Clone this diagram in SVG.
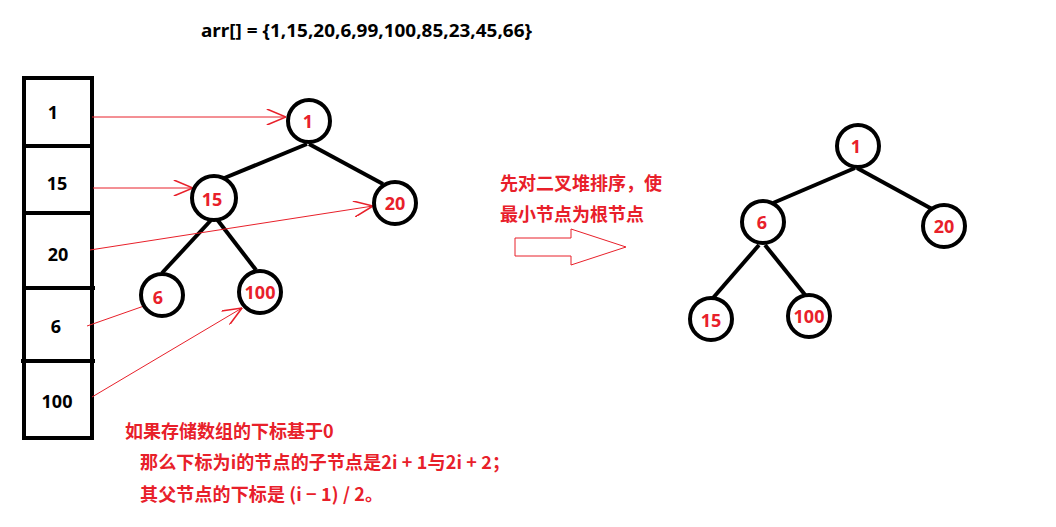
<svg xmlns="http://www.w3.org/2000/svg" width="1056" height="527" viewBox="0 0 1056 527">
<style>
.t{font-family:"Noto Sans","Noto Sans CJK SC",sans-serif;font-weight:bold;font-size:18px}
.blk{fill:#000}
.red{fill:#e8202a}
.c{fill:#fff;stroke:#000;stroke-width:4}
.e{stroke:#000;stroke-width:4;fill:none}
.ra{stroke:#e8202a;stroke-width:1;fill:none}
.cn{font-family:"Noto Sans CJK SC","Noto Sans",sans-serif;font-weight:bold;font-size:18px;fill:#e8202a}
</style>
<defs>
<marker id="ah" viewBox="0 0 12 10" refX="12" refY="5" markerWidth="20" markerHeight="16" markerUnits="userSpaceOnUse" orient="auto">
<path d="M0,0 L12,5 L0,10" fill="none" stroke="#e8202a" stroke-width="1"/>
</marker>
</defs>
<rect width="1056" height="527" fill="#fff"/>
<text class="t blk" x="201" y="37" textLength="331" lengthAdjust="spacingAndGlyphs">arr[] = {1,15,20,6,99,100,85,23,45,66}</text>
<g id="array">
<rect x="24" y="78" width="68" height="360" fill="none" stroke="#000" stroke-width="4"/>
<line x1="22" y1="146" x2="94" y2="146" stroke="#000" stroke-width="4"/>
<line x1="22" y1="213" x2="94" y2="213" stroke="#000" stroke-width="4"/>
<line x1="22" y1="288" x2="95" y2="288" stroke="#000" stroke-width="4"/>
<line x1="21" y1="361" x2="95" y2="361" stroke="#000" stroke-width="4"/>
<text class="t blk" x="53" y="119" text-anchor="middle">1</text>
<text class="t blk" x="57" y="190" text-anchor="middle">15</text>
<text class="t blk" x="58" y="261" text-anchor="middle">20</text>
<text class="t blk" x="56" y="333" text-anchor="middle">6</text>
<text class="t blk" x="57" y="408" text-anchor="middle">100</text>
</g>
<g id="tree-edges">
<line class="e" x1="307" y1="144" x2="222" y2="179"/>
<line class="e" x1="309" y1="144" x2="383" y2="184"/>
<line class="e" x1="213" y1="218" x2="162" y2="273"/>
<line class="e" x1="216" y1="218" x2="256" y2="270"/>
<line class="e" x1="855" y1="168" x2="773" y2="203"/>
<line class="e" x1="857" y1="168" x2="932" y2="209"/>
<line class="e" x1="759" y1="245" x2="713" y2="298"/>
<line class="e" x1="765" y1="245" x2="806" y2="296"/>
</g>
<g id="connectors">
<line class="ra" x1="92" y1="117" x2="286" y2="117" marker-end="url(#ah)"/>
<line class="ra" x1="93" y1="188" x2="193" y2="188" marker-end="url(#ah)"/>
<line class="ra" x1="90" y1="250" x2="373" y2="206" marker-end="url(#ah)"/>
<line class="ra" x1="87" y1="326" x2="144" y2="306"/>
<line class="ra" x1="92" y1="397" x2="242" y2="308" marker-end="url(#ah)"/>
<path class="ra" d="M515,238 H571 V229 L626,247 L571,265 V256 H515 Z"/>
</g>
<g id="n1"><circle class="c" cx="309" cy="121" r="21"/><text class="t red" x="308" y="128" text-anchor="middle">1</text></g>
<g id="n15"><circle class="c" cx="214" cy="198" r="22"/><text class="t red" x="212" y="206" text-anchor="middle">15</text></g>
<g id="n20"><circle class="c" cx="395" cy="203" r="21"/><text class="t red" x="395" y="210" text-anchor="middle">20</text></g>
<g id="n6"><circle class="c" cx="162" cy="295" r="21"/><text class="t red" x="158" y="304" text-anchor="middle">6</text></g>
<g id="n100"><circle class="c" cx="260" cy="292" r="21"/><text class="t red" x="260" y="299" text-anchor="middle">100</text></g>
<g id="m1"><circle class="c" cx="858" cy="146" r="21"/><text class="t red" x="856" y="153" text-anchor="middle">1</text></g>
<g id="m6"><circle class="c" cx="763" cy="222" r="21"/><text class="t red" x="762" y="229" text-anchor="middle">6</text></g>
<g id="m20"><circle class="c" cx="944" cy="226" r="21"/><text class="t red" x="944" y="233" text-anchor="middle">20</text></g>
<g id="m15"><circle class="c" cx="711" cy="319" r="21"/><text class="t red" x="711" y="327" text-anchor="middle">15</text></g>
<g id="m100"><circle class="c" cx="809" cy="316" r="21"/><text class="t red" x="809" y="323" text-anchor="middle">100</text></g>
<g id="labels">
<text class="cn" x="500" y="190">先对二叉堆排序，使</text>
<text class="cn" x="500" y="221">最小节点为根节点</text>
<text class="cn" x="125" y="438">如果存储数组的下标基于0</text>
<text class="cn" x="140" y="469" textLength="370">那么下标为i的节点的子节点是2i + 1与2i + 2；</text>
<text class="cn" x="140" y="501" textLength="243">其父节点的下标是 (i − 1) / 2。</text>
</g>
</svg>
